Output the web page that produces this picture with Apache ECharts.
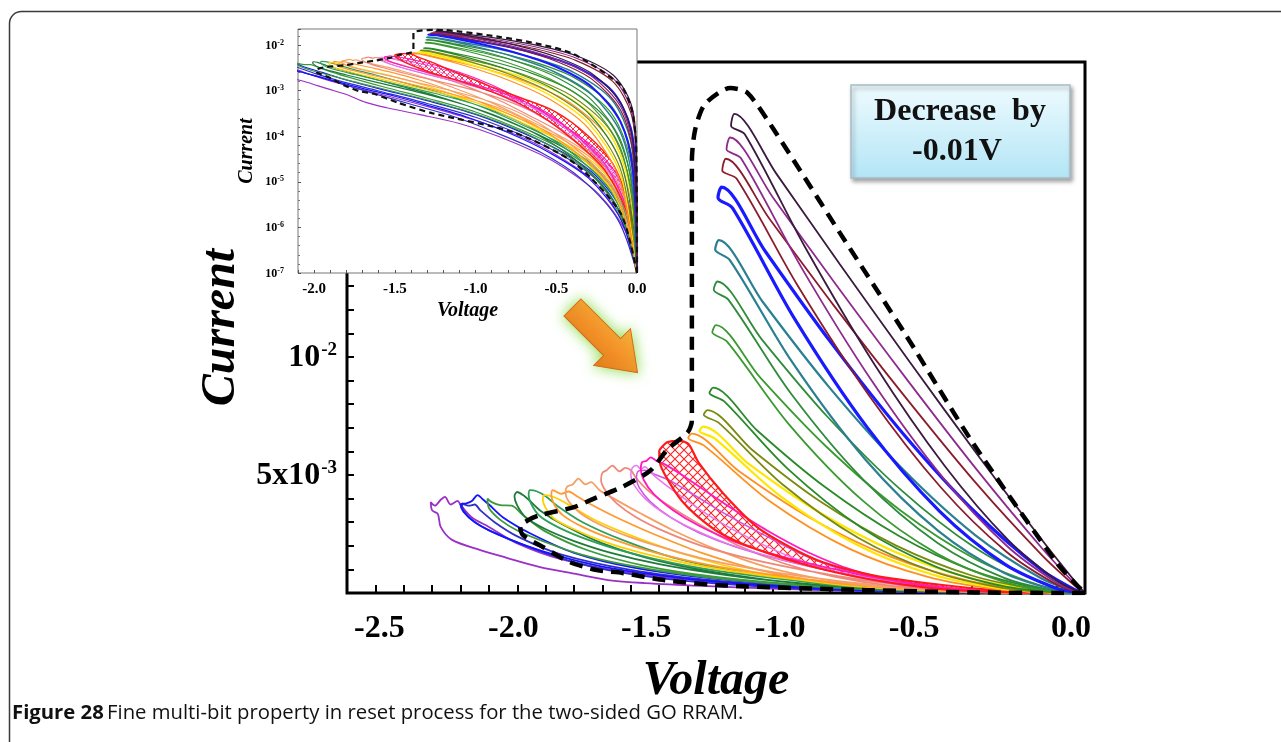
<!DOCTYPE html>
<html><head><meta charset="utf-8">
<script src="https://cdn.jsdelivr.net/npm/echarts@6/dist/echarts.min.js"></script>
<style>html,body{margin:0;padding:0;background:#fff;}#c{width:1281px;height:742px;}</style>
</head><body><div id="c"></div>
<script>
// ---------- DATA (voltage in V, current in mA) ----------
const mainXTicks = [-2.5, -2.0, -1.5, -1.0, -0.5, 0.0];
const mainYLabels = [[5, '5x10', '-3'], [10, '10', '-2']];
const insetXTicks = [-2.0, -1.5, -1.0, -0.5, 0.0];
const insetYDecades = [-7, -6, -5, -4, -3, -2];

const loopR1 = [[0,0.0001],[-0.0049,0.0617],[-0.037,0.512],[-0.148,2.19],[-0.371,5.73],[-0.618,9.80],[-0.865,13.95],[-1.087,17.76],[-1.235,20.3],[-1.247,19.8],[-1.198,19.43],[-0.988,14.69],[-0.741,9.67],[-0.494,5.38],[-0.272,2.26],[-0.099,0.52],[-0.0247,0.0698],[0,0.0001]];
const loopR2 = [[0,0.0001],[-0.005,0.0444],[-0.0375,0.407],[-0.15,1.874],[-0.375,5.13],[-0.625,9.01],[-0.875,13.03],[-1.10,16.77],[-1.25,19.3],[-1.263,18.8],[-1.2125,18.43],[-1.0,13.81],[-0.75,8.97],[-0.5,4.88],[-0.275,1.99],[-0.1,0.436],[-0.025,0.0546],[0,0.0001]];
const loopR3 = [[0,0.0001],[-0.00506,0.0322],[-0.038,0.326],[-0.152,1.606],[-0.38,4.60],[-0.633,8.30],[-0.886,12.20],[-1.113,15.88],[-1.265,18.4],[-1.278,17.9],[-1.227,17.55],[-1.012,13.02],[-0.759,8.34],[-0.506,4.45],[-0.278,1.76],[-0.101,0.366],[-0.0253,0.0429],[0,0.0001]];
const loopR4 = [[0,0.0001],[-0.00512,0.00998],[-0.0384,0.151],[-0.1536,0.984],[-0.384,3.39],[-0.64,6.74],[-0.896,10.63],[-1.126,14.47],[-1.28,17.2],[-1.293,16.75],[-1.2416,16.31],[-1.024,11.64],[-0.768,7.03],[-0.512,3.46],[-0.2816,1.216],[-0.1024,0.206],[-0.0256,0.0182],[0,0.0001]];
const loopR5 = [[0,0.0001],[-0.00516,0.00378],[-0.0387,0.0777],[-0.1548,0.622],[-0.387,2.456],[-0.645,5.285],[-0.903,8.746],[-1.135,12.33],[-1.29,14.95],[-1.303,14.55],[-1.2513,14.11],[-1.032,9.79],[-0.774,5.66],[-0.516,2.62],[-0.2838,0.842],[-0.1032,0.123],[-0.0258,0.00882],[0,0.0001]];
const loopR6 = [[0,0.0001],[-0.00518,0.00193],[-0.0389,0.0483],[-0.1554,0.4435],[-0.3885,1.923],[-0.6475,4.356],[-0.9065,7.458],[-1.1396,10.76],[-1.295,13.2],[-1.308,12.85],[-1.256,12.42],[-1.036,8.45],[-0.777,4.75],[-0.518,2.11],[-0.285,0.639],[-0.1036,0.0845],[-0.0259,0.00528],[0,0.0001]];
const loopR7 = [[0,0.0001],[-0.0052,0.000952],[-0.039,0.0293],[-0.156,0.309],[-0.39,1.464],[-0.65,3.496],[-0.91,6.186],[-1.144,9.125],[-1.30,11.35],[-1.313,11.05],[-1.261,10.65],[-1.04,7.105],[-0.78,3.88],[-0.52,1.657],[-0.286,0.472],[-0.104,0.0564],[-0.026,0.00306],[0,0.0001]];
const loopR8 = [[0,0.0001],[-0.00524,0.00032],[-0.0393,0.0132],[-0.1572,0.172],[-0.393,0.938],[-0.655,2.414],[-0.917,4.498],[-1.153,6.864],[-1.31,8.7],[-1.323,8.47],[-1.271,8.12],[-1.048,5.27],[-0.786,2.755],[-0.524,1.108],[-0.288,0.288],[-0.1048,0.0296],[-0.0262,0.0013],[0,0.0001]];
const loopR9 = [[0,0.0001],[-0.00532,0.000164],[-0.0399,0.0083],[-0.1596,0.124],[-0.399,0.741],[-0.665,2.007],[-0.931,3.864],[-1.170,6.037],[-1.33,7.75],[-1.343,7.55],[-1.290,7.21],[-1.064,4.588],[-0.798,2.333],[-0.532,0.90],[-0.2926,0.221],[-0.1064,0.0205],[-0.0266,0.000775],[0,0.0001]];
const loopR10 = [[0,0.0001],[-0.00538,0.000113],[-0.0404,0.00635],[-0.1614,0.1015],[-0.4035,0.6345],[-0.6725,1.7625],[-0.9415,3.4545],[-1.1836,5.46],[-1.345,7.05],[-1.358,6.86],[-1.305,6.55],[-1.076,4.13],[-0.807,2.07],[-0.538,0.783],[-0.296,0.186],[-0.1076,0.0164],[-0.0269,0.000592],[0,0.0001]];
const loopR11 = [[0,0.0001],[-0.00554,0.0001],[-0.0416,0.00427],[-0.1662,0.0787],[-0.4155,0.5387],[-0.6925,1.575],[-0.9695,3.189],[-1.2188,5.157],[-1.385,6.75],[-1.398,6.57],[-1.343,6.254],[-1.108,3.866],[-0.831,1.881],[-0.554,0.684],[-0.3047,0.153],[-0.1108,0.01215],[-0.0277,0.000385],[0,0.0001]];
const loopRed = [[0,0.0001],[-0.01,0.0003],[-0.05,0.003],[-0.15,0.025],[-0.3,0.1],[-0.51,0.35],[-0.747,0.75],[-0.923,1.3],[-1.04,1.95],[-1.156,2.8],[-1.276,4.24],[-1.36,5.5],[-1.39,6.2],[-1.40,6.35],[-1.43,6.45],[-1.47,6.4],[-1.49,6.2],[-1.50,6.0],[-1.495,5.4],[-1.46,4.6],[-1.42,3.9],[-1.37,3.3],[-1.30,2.65],[-1.22,2.15],[-1.12,1.7],[-1.0,1.25],[-0.88,0.88],[-0.72,0.5],[-0.55,0.22],[-0.38,0.075],[-0.2,0.018],[-0.07,0.0025],[-0.02,0.0004],[0,0.0001]];
const loopM1 = [[0,0.0001],[-0.02,0.001],[-0.1,0.01],[-0.25,0.05],[-0.45,0.17],[-0.64,0.45],[-0.82,0.98],[-0.98,1.75],[-1.12,2.65],[-1.24,3.55],[-1.34,4.35],[-1.42,5.0],[-1.48,5.45],[-1.51,5.6],[-1.53,5.75],[-1.545,5.6],[-1.56,5.55],[-1.565,5.25],[-1.555,4.8],[-1.52,4.2],[-1.45,3.5],[-1.36,2.85],[-1.24,2.2],[-1.08,1.58],[-0.9,1.05],[-0.72,0.62],[-0.54,0.3],[-0.37,0.1],[-0.2,0.025],[-0.07,0.003],[-0.02,0.0004],[0,0.0001]];
const loopM2 = [[0,0.0001],[-0.02,0.0008],[-0.1,0.008],[-0.25,0.04],[-0.45,0.13],[-0.66,0.36],[-0.85,0.8],[-1.02,1.45],[-1.17,2.25],[-1.3,3.1],[-1.4,3.9],[-1.48,4.6],[-1.53,5.1],[-1.55,5.35],[-1.565,5.25],[-1.58,5.4],[-1.595,5.3],[-1.6,5.0],[-1.59,4.6],[-1.55,4.0],[-1.48,3.35],[-1.38,2.7],[-1.25,2.05],[-1.08,1.45],[-0.9,0.95],[-0.72,0.55],[-0.54,0.26],[-0.37,0.09],[-0.2,0.022],[-0.07,0.003],[-0.02,0.0004],[0,0.0001]];
const loopM2b = [[0,0.0001],[-0.02,0.0009],[-0.1,0.009],[-0.25,0.045],[-0.45,0.15],[-0.65,0.42],[-0.83,0.9],[-0.99,1.6],[-1.13,2.45],[-1.26,3.3],[-1.37,4.1],[-1.46,4.75],[-1.52,5.05],[-1.55,5.2],[-1.575,5.15],[-1.58,4.85],[-1.57,4.45],[-1.53,3.85],[-1.46,3.2],[-1.36,2.55],[-1.23,1.95],[-1.06,1.38],[-0.88,0.9],[-0.7,0.52],[-0.52,0.25],[-0.35,0.085],[-0.19,0.02],[-0.06,0.0025],[-0.02,0.0004],[0,0.0001]];
const loopM3 = [[0,0.0001],[-0.02,0.0007],[-0.1,0.007],[-0.25,0.035],[-0.45,0.11],[-0.68,0.3],[-0.88,0.68],[-1.06,1.25],[-1.22,2.0],[-1.35,2.85],[-1.46,3.65],[-1.54,4.35],[-1.58,4.85],[-1.6,5.2],[-1.62,5.3],[-1.64,5.15],[-1.665,5.4],[-1.685,5.2],[-1.70,5.1],[-1.705,4.8],[-1.69,4.35],[-1.65,3.8],[-1.58,3.2],[-1.48,2.6],[-1.35,2.0],[-1.18,1.45],[-0.98,0.95],[-0.78,0.55],[-0.58,0.26],[-0.4,0.09],[-0.22,0.022],[-0.08,0.003],[-0.02,0.0004],[0,0.0001]];
const loopM4 = [[0,0.0001],[-0.02,0.0006],[-0.1,0.006],[-0.25,0.03],[-0.45,0.09],[-0.7,0.25],[-0.92,0.58],[-1.12,1.1],[-1.3,1.85],[-1.45,2.65],[-1.57,3.4],[-1.66,4.0],[-1.71,4.35],[-1.74,4.7],[-1.76,4.6],[-1.785,4.85],[-1.805,4.6],[-1.825,4.5],[-1.83,4.25],[-1.82,3.9],[-1.78,3.4],[-1.71,2.9],[-1.61,2.4],[-1.48,1.9],[-1.32,1.38],[-1.12,0.93],[-0.9,0.56],[-0.7,0.29],[-0.5,0.11],[-0.3,0.03],[-0.13,0.006],[-0.03,0.0005],[0,0.0001]];
const loopM5 = [[0,0.0001],[-0.02,0.0005],[-0.1,0.005],[-0.25,0.026],[-0.45,0.08],[-0.7,0.22],[-0.95,0.52],[-1.15,0.98],[-1.35,1.7],[-1.52,2.5],[-1.65,3.2],[-1.74,3.75],[-1.79,4.1],[-1.82,4.3],[-1.845,4.2],[-1.875,4.36],[-1.88,4.15],[-1.87,3.75],[-1.84,3.3],[-1.77,2.8],[-1.67,2.3],[-1.54,1.8],[-1.37,1.3],[-1.17,0.88],[-0.95,0.54],[-0.74,0.28],[-0.52,0.1],[-0.32,0.03],[-0.14,0.006],[-0.04,0.0006],[0,0.0001]];
const loopM6 = [[0,0.0001],[-0.02,0.00045],[-0.1,0.0045],[-0.25,0.023],[-0.45,0.07],[-0.7,0.19],[-0.95,0.47],[-1.18,0.92],[-1.4,1.6],[-1.58,2.35],[-1.72,3.05],[-1.8,3.6],[-1.85,3.95],[-1.88,4.1],[-1.905,4.15],[-1.91,3.95],[-1.9,3.6],[-1.87,3.15],[-1.8,2.7],[-1.7,2.2],[-1.57,1.72],[-1.4,1.25],[-1.2,0.85],[-0.98,0.52],[-0.76,0.27],[-0.53,0.1],[-0.33,0.03],[-0.15,0.006],[-0.04,0.0006],[0,0.0001]];
const loopM7 = [[0,0.0001],[-0.02,0.0004],[-0.1,0.004],[-0.25,0.02],[-0.45,0.062],[-0.7,0.17],[-0.95,0.42],[-1.2,0.85],[-1.45,1.5],[-1.63,2.25],[-1.77,3.0],[-1.86,3.7],[-1.9,4.1],[-1.93,4.3],[-1.955,4.36],[-1.96,4.15],[-1.95,3.75],[-1.92,3.25],[-1.85,2.75],[-1.75,2.25],[-1.62,1.75],[-1.45,1.27],[-1.25,0.86],[-1.02,0.52],[-0.8,0.27],[-0.56,0.1],[-0.35,0.03],[-0.16,0.006],[-0.04,0.0006],[0,0.0001]];
const loopM8 = [[0,0.0001],[-0.02,0.00035],[-0.1,0.0035],[-0.25,0.018],[-0.45,0.055],[-0.7,0.15],[-1.0,0.4],[-1.25,0.78],[-1.5,1.35],[-1.7,2.1],[-1.84,2.9],[-1.92,3.5],[-1.96,3.95],[-1.98,4.15],[-2.0,4.28],[-2.01,4.1],[-2.0,3.7],[-1.97,3.2],[-1.9,2.7],[-1.8,2.2],[-1.67,1.7],[-1.5,1.22],[-1.3,0.82],[-1.08,0.5],[-0.85,0.26],[-0.6,0.1],[-0.38,0.03],[-0.18,0.006],[-0.05,0.0007],[0,0.0001]];
const loopM9 = [[0,0.0001],[-0.02,0.0003],[-0.1,0.003],[-0.25,0.015],[-0.45,0.048],[-0.7,0.13],[-1.0,0.34],[-1.3,0.68],[-1.55,1.15],[-1.75,1.8],[-1.9,2.6],[-1.98,3.3],[-2.02,3.7],[-2.06,3.72],[-2.09,3.85],[-2.105,4.0],[-2.1,3.6],[-2.06,3.1],[-2.0,2.65],[-1.9,2.15],[-1.78,1.65],[-1.62,1.2],[-1.42,0.8],[-1.2,0.5],[-0.95,0.27],[-0.7,0.12],[-0.45,0.04],[-0.25,0.011],[-0.08,0.0012],[0,0.0001]];
const loopM10 = [[0,0.0001],[-0.02,0.0003],[-0.1,0.0025],[-0.25,0.013],[-0.45,0.042],[-0.7,0.115],[-1.0,0.3],[-1.3,0.6],[-1.6,1.1],[-1.8,1.7],[-1.95,2.5],[-2.05,3.2],[-2.1,3.75],[-2.12,3.95],[-2.14,4.15],[-2.16,3.9],[-2.18,3.8],[-2.2,3.75],[-2.19,3.45],[-2.15,3.0],[-2.08,2.55],[-1.98,2.05],[-1.85,1.55],[-1.7,1.12],[-1.5,0.75],[-1.3,0.48],[-1.05,0.26],[-0.8,0.12],[-0.55,0.045],[-0.3,0.012],[-0.1,0.0015],[0,0.0001]];
const loopM11 = [[0,0.0001],[-0.02,0.00025],[-0.1,0.002],[-0.25,0.011],[-0.45,0.036],[-0.7,0.1],[-1.0,0.26],[-1.3,0.52],[-1.6,0.98],[-1.85,1.65],[-2.0,2.4],[-2.08,3.0],[-2.13,3.5],[-2.15,3.75],[-2.17,3.7],[-2.195,3.8],[-2.19,3.5],[-2.16,3.1],[-2.1,2.65],[-2.0,2.15],[-1.88,1.6],[-1.75,1.15],[-1.6,0.8],[-1.4,0.5],[-1.15,0.28],[-0.9,0.13],[-0.6,0.045],[-0.35,0.012],[-0.12,0.0015],[0,0.0001]];
const loopM12 = [[0,0.0001],[-0.02,0.0002],[-0.1,0.0015],[-0.25,0.009],[-0.45,0.03],[-0.7,0.09],[-1.0,0.22],[-1.3,0.45],[-1.6,0.85],[-1.85,1.45],[-2.0,2.1],[-2.1,2.8],[-2.16,3.2],[-2.20,3.73],[-2.21,3.9],[-2.235,3.75],[-2.255,4.07],[-2.27,3.95],[-2.29,3.7],[-2.305,3.85],[-2.30,3.5],[-2.28,3.35],[-2.27,2.8],[-2.23,2.25],[-2.13,1.82],[-2.04,1.5],[-1.92,1.1],[-1.80,0.82],[-1.68,0.55],[-1.55,0.42],[-1.35,0.3],[-1.1,0.19],[-0.86,0.1],[-0.6,0.04],[-0.45,0.02],[-0.24,0.0055],[-0.07,0.0008],[0,0.0001]];
const envelope = [[0,0.0001],[-0.1,0.002],[-0.39,0.026],[-0.76,0.12],[-1.27,0.32],[-1.48,0.54],[-1.63,0.85],[-1.72,0.97],[-1.815,1.31],[-1.91,1.95],[-1.98,2.45],[-1.99,2.8],[-1.96,3.1],[-1.92,3.3],[-1.80,3.64],[-1.73,4.0],[-1.63,4.5],[-1.53,5.2],[-1.47,6.1],[-1.40,6.8],[-1.385,7.3],[-1.385,12.0],[-1.385,18.3],[-1.374,19.6],[-1.34,20.7],[-1.25,21.4],[-1.19,21.2],[-1.10,19.7],[-0.863,15.25],[-0.627,10.85],[-0.395,6.36],[-0.099,1.27],[-0.03,0.35],[-0.005,0.06],[0,0.0001]];

// ---------- STYLE ----------
const SERIF = '"Liberation Serif","Times New Roman",serif';
const loopStyles = [
  [loopM12, '#9b30c8', 1.8], [loopM11, '#3030c8', 1.8], [loopM10, '#1414ff', 1.8], [loopM9, '#3c9a3c', 1.8],
  [loopM8, '#1e7b3c', 1.8], [loopM7, '#2e9e5a', 1.8], [loopM6, '#ffd000', 1.8], [loopM5, '#ff9a30', 1.8],
  [loopM4, '#f4a068', 1.8], [loopM3, '#f08878', 1.8], [loopM2b, '#d050e0', 1.5], [loopM2, '#e878f0', 1.5],
  [loopM1, '#ff1ac0', 1.8], [loopRed, '#ff1a1a', 2.2],
  [loopR11, '#ff9020', 1.8], [loopR10, '#ffe600', 2.2], [loopR9, '#7a8a10', 1.8], [loopR8, '#2a8a2a', 1.8],
  [loopR7, '#3a9a30', 1.8], [loopR6, '#2e8b3a', 1.8], [loopR5, '#2a7f90', 2.2], [loopR4, '#1a1aff', 3.2],
  [loopR3, '#8b1c2c', 1.8], [loopR2, '#8e2a8e', 1.8], [loopR1, '#3a1a3e', 1.8]
];
const xShifts = [4, -4, -13, -21, -29, -14];

function hatch(size, color, lw) {
  const c = document.createElement('canvas'); c.width = c.height = size;
  const g = c.getContext('2d'); g.strokeStyle = color; g.lineWidth = lw;
  g.beginPath(); g.moveTo(0, 0); g.lineTo(size, size); g.moveTo(size, 0); g.lineTo(0, size); g.stroke();
  return c;
}
const hatchMain = hatch(9, '#ff2020', 1.1);
const hatchInset = hatch(6, '#ff2020', 0.9);
const toLog = p => [p[0], Math.log10(p[1]) - 3];

const series = [];
function hatchSeries(xi, yi, tf, img, z) {
  return { type: 'custom', xAxisIndex: xi, yAxisIndex: yi, z: z, silent: true, clip: true,
    data: loopRed.map(tf),
    renderItem: (params, api) => {
      if (params.dataIndex !== 0) return null;
      const pts = loopRed.map(p => api.coord(tf(p)));
      return { type: 'polygon', shape: { points: pts, smooth: 0.25 }, style: { fill: { image: img, repeat: 'repeat' }, stroke: null } };
    } };
}
series.push(hatchSeries(0, 0, p => p, hatchMain, 2));
series.push(hatchSeries(1, 1, toLog, hatchInset, 12));
loopStyles.forEach(([d, c, w]) => {
  series.push({ type: 'line', xAxisIndex: 0, yAxisIndex: 0, data: d, smooth: 0.3, showSymbol: false, silent: true,
    lineStyle: { color: c, width: w }, z: 3 });
  series.push({ type: 'line', xAxisIndex: 1, yAxisIndex: 1, data: d.map(toLog), smooth: 0.3, showSymbol: false, silent: true,
    lineStyle: { color: c, width: Math.max(1, w * 0.65) }, z: 13 });
});
series.push({ type: 'line', xAxisIndex: 0, yAxisIndex: 0, data: envelope, smooth: 0.25, showSymbol: false, silent: true,
  lineStyle: { color: '#000', width: 4.5, type: [13, 8] }, z: 4 });
series.push({ type: 'line', xAxisIndex: 1, yAxisIndex: 1, data: envelope.map(toLog), smooth: 0.25, showSymbol: false, silent: true,
  lineStyle: { color: '#111', width: 2.2, type: [6, 4] }, z: 14 });

const xRich = {};
xShifts.forEach((d, i) => {
  xRich['s' + i] = { fontFamily: SERIF, fontWeight: 'bold', fontSize: 32, color: '#000',
    padding: d >= 0 ? [0, 0, 0, 2 * d] : [0, -2 * d, 0, 0] };
});

const option = {
  animation: false,
  backgroundColor: '#fff',
  grid: [
    { left: 347, top: 62, width: 738, height: 531, show: true, borderColor: '#000', borderWidth: 3, backgroundColor: 'transparent', z: 0 },
    { left: 298, top: 29, width: 339, height: 244, show: true, borderColor: '#777', borderWidth: 1, backgroundColor: '#fff', z: 10 }
  ],
  xAxis: [
    { gridIndex: 0, type: 'value', position: 'bottom', min: -2.6, max: 0, interval: 0.1,
      axisLine: { show: false, onZero: false }, splitLine: { show: false },
      axisTick: { inside: true, length: 8, lineStyle: { color: '#000', width: 2 } },
      axisLabel: { margin: 20,
        formatter: v => { const i = mainXTicks.findIndex(t => Math.abs(t - v) < 1e-6); return i < 0 ? '' : '{s' + i + '|' + mainXTicks[i].toFixed(1) + '}'; },
        rich: xRich },
      name: 'Voltage', nameLocation: 'middle', nameGap: 65,
      nameTextStyle: { fontFamily: SERIF, fontWeight: 'bold', fontStyle: 'italic', fontSize: 48, color: '#000' } },
    { gridIndex: 1, type: 'value', position: 'bottom', min: -2.1, max: 0, interval: 0.1, z: 11,
      axisLine: { show: false, onZero: false }, splitLine: { show: false },
      axisTick: { inside: true, length: 3, lineStyle: { color: '#555', width: 1 } },
      axisLabel: { margin: 9, color: '#000', fontFamily: SERIF, fontWeight: 'bold', fontSize: 15,
        formatter: v => { const t = insetXTicks.find(t => Math.abs(t - v) < 1e-6); return t === undefined ? '' : t.toFixed(1); } },
      name: 'Voltage', nameLocation: 'middle', nameGap: 28,
      nameTextStyle: { fontFamily: SERIF, fontWeight: 'bold', fontStyle: 'italic', fontSize: 20, color: '#000' } }
  ],
  yAxis: [
    { gridIndex: 0, type: 'value', position: 'left', min: 0, max: 22.5, interval: 1,
      axisLine: { show: false, onZero: false }, splitLine: { show: false },
      axisTick: { inside: true, length: 7, lineStyle: { color: '#000', width: 2 } },
      axisLabel: { margin: 10,
        formatter: v => { const l = mainYLabels.find(e => Math.abs(e[0] - v) < 1e-6); return l ? '{b|' + l[1] + '}{s|' + l[2] + '}' : ''; },
        rich: { b: { fontFamily: SERIF, fontWeight: 'bold', fontSize: 32, color: '#000', verticalAlign: 'bottom' },
                s: { fontFamily: SERIF, fontWeight: 'bold', fontSize: 19, color: '#000', verticalAlign: 'bottom', padding: [0, 0, 14, 1] } } },
      name: 'Current', nameLocation: 'middle', nameGap: 93, nameRotate: 90,
      nameTextStyle: { fontFamily: SERIF, fontWeight: 'bold', fontStyle: 'italic', fontSize: 48, color: '#000' } },
    { gridIndex: 1, type: 'value', position: 'left', min: -7, max: -1.65, interval: 1, z: 11,
      axisLine: { show: false, onZero: false }, splitLine: { show: false },
      axisTick: { inside: true, length: 3, lineStyle: { color: '#555', width: 1 } },
      minorTick: { show: true, splitNumber: 5, length: 2, lineStyle: { color: '#777' } },
      axisLabel: { margin: 14, showMaxLabel: false,
        formatter: v => { const d = insetYDecades.find(e => Math.abs(e - v) < 1e-6); return d === undefined ? '' : '{b|10}{s|' + d + '}'; },
        rich: { b: { fontFamily: SERIF, fontWeight: 'bold', fontSize: 12, color: '#000', verticalAlign: 'bottom' },
                s: { fontFamily: SERIF, fontWeight: 'bold', fontSize: 8, color: '#000', verticalAlign: 'bottom', padding: [0, 0, 5, 0] } } },
      name: 'Current', nameLocation: 'middle', nameGap: 41, nameRotate: 90,
      nameTextStyle: { fontFamily: SERIF, fontWeight: 'bold', fontStyle: 'italic', fontSize: 20, color: '#000' } }
  ],
  graphic: [
    { type: 'rect', z: 0, silent: true, shape: { x: 9.5, y: 11.5, width: 1300, height: 800, r: 12 },
      style: { fill: 'none', stroke: '#3a3a3a', lineWidth: 1.5 } },
    { type: 'polygon', z: 30, silent: true, x: 605, y: 340, rotation: -Math.PI / 4,
      shape: { points: [[-46, -12], [10, -12], [10, -26], [46, 0], [10, 26], [10, 12], [-46, 12]] },
      style: { fill: { type: 'linear', x: 0, y: 0, x2: 0, y2: 1, colorStops: [{ offset: 0, color: '#ffad3a' }, { offset: 1, color: '#ec7417' }] },
        stroke: '#d9681a', lineWidth: 1, shadowColor: 'rgba(130,220,60,0.95)', shadowBlur: 14 } },
    { type: 'rect', z: 30, silent: true, shape: { x: 851, y: 85, width: 219, height: 93 },
      style: { fill: { type: 'linear', x: 0, y: 0, x2: 0, y2: 1, colorStops: [{ offset: 0, color: '#eefbfe' }, { offset: 1, color: '#b3e5f6' }] },
        stroke: '#a8bcc4', lineWidth: 1.5, shadowColor: 'rgba(0,0,0,0.35)', shadowBlur: 4, shadowOffsetX: 2, shadowOffsetY: 3 } },
    { type: 'text', z: 31, silent: true, x: 960, y: 112,
      style: { text: 'Decrease  by', fontFamily: SERIF, fontWeight: 'bold', fontSize: 32, fill: '#111', align: 'center', verticalAlign: 'middle' } },
    { type: 'text', z: 31, silent: true, x: 957, y: 152,
      style: { text: '-0.01V', fontFamily: SERIF, fontWeight: 'bold', fontSize: 32, fill: '#111', align: 'center', verticalAlign: 'middle' } },
    { type: 'text', z: 31, silent: true, x: 12, y: 713,
      style: { text: '{b|Figure 28} {n|Fine multi-bit property in reset process for the two-sided GO RRAM.}', verticalAlign: 'middle',
        rich: { b: { fontFamily: '"Open Sans",sans-serif', fontWeight: 'bold', fontSize: 20.3, fill: '#111' },
                n: { fontFamily: '"Open Sans",sans-serif', fontSize: 20.3, fill: '#111' } } } }
  ],
  series: series
};
const chart = echarts.init(document.getElementById('c'), null, { renderer: 'canvas' });
chart.setOption(option);
</script></body></html>
